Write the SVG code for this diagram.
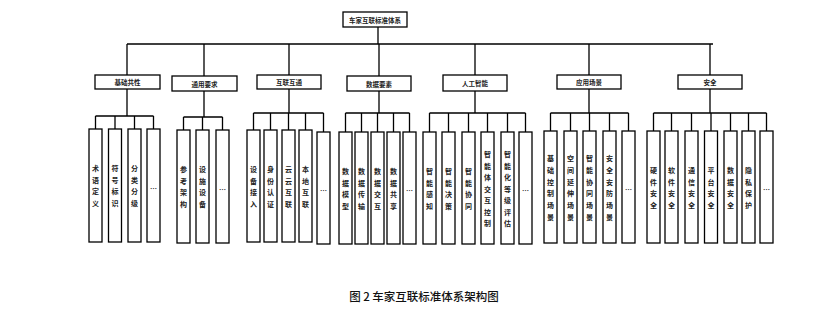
<svg xmlns="http://www.w3.org/2000/svg" width="820" height="316" viewBox="0 0 820 316">
<style>
.box{fill:#fff;stroke:#000;stroke-width:1.3}
.ln{fill:none;stroke:#000;stroke-width:1.3}
.t{font-family:"Noto Sans CJK SC","Noto Sans CJK JP",sans-serif;font-size:6.5px;font-weight:600;fill:#222;text-anchor:middle;dominant-baseline:central}
.lt{font-family:"Noto Sans CJK SC","Noto Sans CJK JP",sans-serif;font-size:7px;font-weight:600;fill:#222;text-anchor:middle;dominant-baseline:central}
.cap{font-family:"Noto Sans CJK SC","Noto Sans CJK JP",sans-serif;font-size:11.5px;font-weight:500;fill:#111;text-anchor:middle}
</style>
<rect width="820" height="316" fill="#fff"/>
<g id="connectors" class="ln">
<path d="M378 27V44M127 44H713M127 44V75M204 44V76M289 44V75M379 44V76M475 44V75M589 44V75M710 44V75"/>
<path d="M127 89V116M95.5 116H153.5M95.5 116V129M115 116V129M134.5 116V129M153.5 116V129"/>
<path d="M204 91V117M183.5 117H222.5M183.5 117V130M202.5 117V130M222.5 117V130"/>
<path d="M289 89V113M253.5 113H323.5M253.5 113V130M270.5 113V130M288.5 113V130M305.5 113V130M323.5 113V132"/>
<path d="M379 91V113M345.5 113H409.5M345.5 113V132M361.5 113V132M377.5 113V132M393.5 113V132M409.5 113V132"/>
<path d="M475 91V113M429.5 113H525.5M429.5 113V132M448.5 113V132M468.5 113V132M487.5 113V132M507.5 113V132M525.5 113V132"/>
<path d="M589 89V113M550.5 113H628.5M550.5 113V131M570.5 113V131M589.5 113V131M609.5 113V131M628.5 113V131"/>
<path d="M710 89V113M653.5 113H766.5M653.5 113V131M671.5 113V131M691.5 113V131M711 113V131M730.5 113V131M748.5 113V131M766.5 113V131"/>
</g>
<g id="root"><rect class="box" x="343" y="12" width="64" height="15"/><text class="t" x="375" y="19.5">车家互联标准体系</text></g>
<g id="cat1"><rect class="box" x="95" y="75" width="65" height="14"/><text class="t" x="127.5" y="82">基础共性</text></g>
<g id="cat2"><rect class="box" x="172" y="76" width="65" height="15"/><text class="t" x="204.5" y="83.5">通用要求</text></g>
<g id="cat3"><rect class="box" x="257" y="75" width="64" height="14"/><text class="t" x="289" y="82">互联互通</text></g>
<g id="cat4"><rect class="box" x="347" y="76" width="64" height="15"/><text class="t" x="379" y="83.5">数据要素</text></g>
<g id="cat5"><rect class="box" x="443" y="75" width="64" height="16"/><text class="t" x="475" y="83">人工智能</text></g>
<g id="cat6"><rect class="box" x="557" y="75" width="64" height="14"/><text class="t" x="589" y="82">应用场景</text></g>
<g id="cat7"><rect class="box" x="678" y="75" width="64" height="14"/><text class="t" x="710" y="82">安全</text></g>

<g id="l1a"><rect class="box" x="89" y="129" width="13" height="113"/><text class="lt"><tspan x="95.5" y="168">术</tspan><tspan x="95.5" y="179.5">语</tspan><tspan x="95.5" y="191">定</tspan><tspan x="95.5" y="202.5">义</tspan></text></g>
<g id="l1b"><rect class="box" x="108.5" y="129" width="13" height="113"/><text class="lt"><tspan x="115" y="168">符</tspan><tspan x="115" y="179.5">号</tspan><tspan x="115" y="191">标</tspan><tspan x="115" y="202.5">识</tspan></text></g>
<g id="l1c"><rect class="box" x="128" y="129" width="13" height="113"/><text class="lt"><tspan x="134.5" y="168">分</tspan><tspan x="134.5" y="179.5">类</tspan><tspan x="134.5" y="191">分</tspan><tspan x="134.5" y="202.5">级</tspan></text></g>
<g id="l1d"><rect class="box" x="147" y="129" width="13" height="113"/><text class="lt" x="153.5" y="188">…</text></g>

<g id="l2a"><rect class="box" x="177" y="130" width="13" height="113"/><text class="lt"><tspan x="183.5" y="169">参</tspan><tspan x="183.5" y="180.5">考</tspan><tspan x="183.5" y="192">架</tspan><tspan x="183.5" y="203.5">构</tspan></text></g>
<g id="l2b"><rect class="box" x="196" y="130" width="13" height="113"/><text class="lt"><tspan x="202.5" y="169">设</tspan><tspan x="202.5" y="180.5">施</tspan><tspan x="202.5" y="192">设</tspan><tspan x="202.5" y="203.5">备</tspan></text></g>
<g id="l2c"><rect class="box" x="216" y="130" width="13" height="113"/><text class="lt" x="222.5" y="189">…</text></g>

<g id="l3a"><rect class="box" x="247" y="130" width="13" height="112"/><text class="lt"><tspan x="253.5" y="169">设</tspan><tspan x="253.5" y="180.5">备</tspan><tspan x="253.5" y="192">接</tspan><tspan x="253.5" y="203.5">入</tspan></text></g>
<g id="l3b"><rect class="box" x="264" y="130" width="13" height="112"/><text class="lt"><tspan x="270.5" y="169">身</tspan><tspan x="270.5" y="180.5">份</tspan><tspan x="270.5" y="192">认</tspan><tspan x="270.5" y="203.5">证</tspan></text></g>
<g id="l3c"><rect class="box" x="282" y="130" width="13" height="112"/><text class="lt"><tspan x="288.5" y="169">云</tspan><tspan x="288.5" y="180.5">云</tspan><tspan x="288.5" y="192">互</tspan><tspan x="288.5" y="203.5">联</tspan></text></g>
<g id="l3d"><rect class="box" x="299" y="130" width="13" height="112"/><text class="lt"><tspan x="305.5" y="169">本</tspan><tspan x="305.5" y="180.5">地</tspan><tspan x="305.5" y="192">互</tspan><tspan x="305.5" y="203.5">联</tspan></text></g>
<g id="l3e"><rect class="box" x="317" y="132" width="13" height="112"/><text class="lt" x="323.5" y="190">…</text></g>

<g id="l4a"><rect class="box" x="339" y="132" width="13" height="112"/><text class="lt"><tspan x="345.5" y="171">数</tspan><tspan x="345.5" y="182.5">据</tspan><tspan x="345.5" y="194">模</tspan><tspan x="345.5" y="205.5">型</tspan></text></g>
<g id="l4b"><rect class="box" x="355" y="132" width="13" height="112"/><text class="lt"><tspan x="361.5" y="171">数</tspan><tspan x="361.5" y="182.5">据</tspan><tspan x="361.5" y="194">传</tspan><tspan x="361.5" y="205.5">输</tspan></text></g>
<g id="l4c"><rect class="box" x="371" y="132" width="13" height="112"/><text class="lt"><tspan x="377.5" y="171">数</tspan><tspan x="377.5" y="182.5">据</tspan><tspan x="377.5" y="194">交</tspan><tspan x="377.5" y="205.5">互</tspan></text></g>
<g id="l4d"><rect class="box" x="387" y="132" width="13" height="112"/><text class="lt"><tspan x="393.5" y="171">数</tspan><tspan x="393.5" y="182.5">据</tspan><tspan x="393.5" y="194">共</tspan><tspan x="393.5" y="205.5">享</tspan></text></g>
<g id="l4e"><rect class="box" x="403" y="132" width="13" height="112"/><text class="lt" x="409.5" y="190">…</text></g>

<g id="l5a"><rect class="box" x="423" y="132" width="13" height="112"/><text class="lt"><tspan x="429.5" y="171">智</tspan><tspan x="429.5" y="182.5">能</tspan><tspan x="429.5" y="194">感</tspan><tspan x="429.5" y="205.5">知</tspan></text></g>
<g id="l5b"><rect class="box" x="442" y="132" width="13" height="112"/><text class="lt"><tspan x="448.5" y="171">智</tspan><tspan x="448.5" y="182.5">能</tspan><tspan x="448.5" y="194">决</tspan><tspan x="448.5" y="205.5">策</tspan></text></g>
<g id="l5c"><rect class="box" x="462" y="132" width="13" height="112"/><text class="lt"><tspan x="468.5" y="171">智</tspan><tspan x="468.5" y="182.5">能</tspan><tspan x="468.5" y="194">协</tspan><tspan x="468.5" y="205.5">同</tspan></text></g>
<g id="l5d"><rect class="box" x="481" y="132" width="13" height="112"/><text class="lt"><tspan x="487.5" y="154">智</tspan><tspan x="487.5" y="165.5">能</tspan><tspan x="487.5" y="177">体</tspan><tspan x="487.5" y="188.5">交</tspan><tspan x="487.5" y="200">互</tspan><tspan x="487.5" y="211.5">控</tspan><tspan x="487.5" y="223">制</tspan></text></g>
<g id="l5e"><rect class="box" x="501" y="132" width="13" height="112"/><text class="lt"><tspan x="507.5" y="154">智</tspan><tspan x="507.5" y="165.5">能</tspan><tspan x="507.5" y="177">化</tspan><tspan x="507.5" y="188.5">等</tspan><tspan x="507.5" y="200">级</tspan><tspan x="507.5" y="211.5">评</tspan><tspan x="507.5" y="223">估</tspan></text></g>
<g id="l5f"><rect class="box" x="519" y="132" width="13" height="112"/><text class="lt" x="525.5" y="190">…</text></g>

<g id="l6a"><rect class="box" x="544" y="131" width="13" height="112"/><text class="lt"><tspan x="550.5" y="158">基</tspan><tspan x="550.5" y="169.8">础</tspan><tspan x="550.5" y="181.6">控</tspan><tspan x="550.5" y="193.4">制</tspan><tspan x="550.5" y="205.2">场</tspan><tspan x="550.5" y="217">景</tspan></text></g>
<g id="l6b"><rect class="box" x="564" y="131" width="13" height="112"/><text class="lt"><tspan x="570.5" y="158">空</tspan><tspan x="570.5" y="169.8">间</tspan><tspan x="570.5" y="181.6">延</tspan><tspan x="570.5" y="193.4">伸</tspan><tspan x="570.5" y="205.2">场</tspan><tspan x="570.5" y="217">景</tspan></text></g>
<g id="l6c"><rect class="box" x="583" y="131" width="13" height="112"/><text class="lt"><tspan x="589.5" y="158">智</tspan><tspan x="589.5" y="169.8">能</tspan><tspan x="589.5" y="181.6">协</tspan><tspan x="589.5" y="193.4">同</tspan><tspan x="589.5" y="205.2">场</tspan><tspan x="589.5" y="217">景</tspan></text></g>
<g id="l6d"><rect class="box" x="603" y="131" width="13" height="112"/><text class="lt"><tspan x="609.5" y="158">安</tspan><tspan x="609.5" y="169.8">全</tspan><tspan x="609.5" y="181.6">安</tspan><tspan x="609.5" y="193.4">防</tspan><tspan x="609.5" y="205.2">场</tspan><tspan x="609.5" y="217">景</tspan></text></g>
<g id="l6e"><rect class="box" x="622" y="131" width="13" height="112"/><text class="lt" x="628.5" y="189">…</text></g>

<g id="l7a"><rect class="box" x="647" y="131" width="13" height="112"/><text class="lt"><tspan x="653.5" y="170">硬</tspan><tspan x="653.5" y="181.5">件</tspan><tspan x="653.5" y="193">安</tspan><tspan x="653.5" y="204.5">全</tspan></text></g>
<g id="l7b"><rect class="box" x="665" y="131" width="13" height="112"/><text class="lt"><tspan x="671.5" y="170">软</tspan><tspan x="671.5" y="181.5">件</tspan><tspan x="671.5" y="193">安</tspan><tspan x="671.5" y="204.5">全</tspan></text></g>
<g id="l7c"><rect class="box" x="685" y="131" width="13" height="112"/><text class="lt"><tspan x="691.5" y="170">通</tspan><tspan x="691.5" y="181.5">信</tspan><tspan x="691.5" y="193">安</tspan><tspan x="691.5" y="204.5">全</tspan></text></g>
<g id="l7d"><rect class="box" x="704.5" y="131" width="13" height="112"/><text class="lt"><tspan x="711" y="170">平</tspan><tspan x="711" y="181.5">台</tspan><tspan x="711" y="193">安</tspan><tspan x="711" y="204.5">全</tspan></text></g>
<g id="l7e"><rect class="box" x="724" y="131" width="13" height="112"/><text class="lt"><tspan x="730.5" y="170">数</tspan><tspan x="730.5" y="181.5">据</tspan><tspan x="730.5" y="193">安</tspan><tspan x="730.5" y="204.5">全</tspan></text></g>
<g id="l7f"><rect class="box" x="742" y="131" width="13" height="112"/><text class="lt"><tspan x="748.5" y="170">隐</tspan><tspan x="748.5" y="181.5">私</tspan><tspan x="748.5" y="193">保</tspan><tspan x="748.5" y="204.5">护</tspan></text></g>
<g id="l7g"><rect class="box" x="760" y="131" width="13" height="112"/><text class="lt" x="766.5" y="189">…</text></g>

<text class="cap" x="424" y="301">图 2 车家互联标准体系架构图</text>
</svg>
